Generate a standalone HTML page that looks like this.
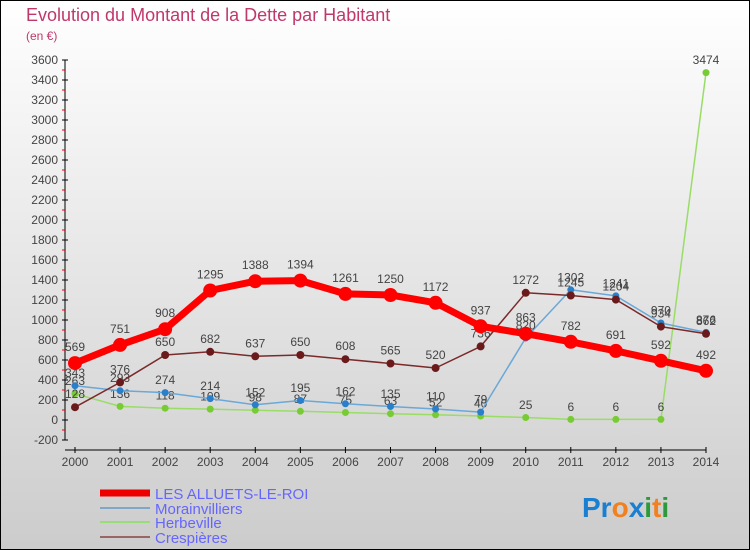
<!DOCTYPE html>
<html><head><meta charset="utf-8"><style>
html,body{margin:0;padding:0}
body{width:750px;height:550px;overflow:hidden}
svg{display:block;font-family:"Liberation Sans",sans-serif}
</style></head><body>
<svg id="chart" width="750" height="550" viewBox="0 0 750 550">
<defs><linearGradient id="bg" x1="0" y1="0" x2="0" y2="1"><stop offset="0" stop-color="#ffffff"/><stop offset="1" stop-color="#cccccc"/></linearGradient></defs>
<rect x="0.5" y="0.5" width="749" height="549" fill="url(#bg)" stroke="#000"/>
<text x="26" y="21" font-size="18" fill="#c0386a">Evolution du Montant de la Dette par Habitant</text>
<text x="26" y="40" font-size="12" fill="#c0386a">(en €)</text>
<g id="axes"></g><g id="series"></g>
<g>
<line x1="100" y1="493" x2="150" y2="493" stroke="#e00" stroke-width="7"/>
<text x="155" y="499" font-size="15" fill="#6666ff">LES ALLUETS-LE-ROI</text>
<line x1="100" y1="508" x2="150" y2="508" stroke="#7fa8c8" stroke-width="2"/>
<text x="155" y="514" font-size="15" fill="#6666ff">Morainvilliers</text>
<line x1="100" y1="522" x2="150" y2="522" stroke="#99dd77" stroke-width="2"/>
<text x="155" y="528" font-size="15" fill="#6666ff">Herbeville</text>
<line x1="100" y1="537" x2="150" y2="537" stroke="#996666" stroke-width="2"/>
<text x="155" y="543" font-size="15" fill="#6666ff">Crespières</text>
</g>
<text x="582" y="517" font-size="28" font-weight="bold"><tspan fill="#1a7fd0">Pr</tspan><tspan fill="#f08020">o</tspan><tspan fill="#1a7fd0">x</tspan><tspan fill="#2a9a3a">i</tspan><tspan fill="#f08020">t</tspan><tspan fill="#2a9a3a">i</tspan></text>
</svg>
<script>
const years=["2000","2001","2002","2003","2004","2005","2006","2007","2008","2009","2010","2011","2012","2013","2014"];
const yTicks=[-200,0,200,400,600,800,1000,1200,1400,1600,1800,2000,2200,2400,2600,2800,3000,3200,3400,3600];
const alluets=[569,751,908,1295,1388,1394,1261,1250,1172,937,863,782,691,592,492];
const morainvilliers=[343,293,274,214,152,195,162,135,110,79,820,1302,1241,970,876];
const herbeville=[263,136,118,109,98,87,75,63,52,40,25,6,6,6,3474];
const crespieres=[128,376,650,682,637,650,608,565,520,736,1272,1245,1204,934,862];
const NS="http://www.w3.org/2000/svg";
const xS=i=>75+i*(631/14);
const yS=v=>420-v*0.1;
function mk(tag,attrs,parent){const e=document.createElementNS(NS,tag);for(const k in attrs)e.setAttribute(k,attrs[k]);parent.appendChild(e);return e;}
const ax=document.getElementById('axes');
const yl=mk('line',{x1:65,y1:yS(3600),x2:65,y2:yS(-200),stroke:'#000'},ax);


const xl=mk('line',{x1:65,y1:450,x2:706,y2:450,stroke:'#000'},ax);


yTicks.forEach((v,k)=>{
 mk('line',{x1:62,y1:yS(v),x2:68,y2:yS(v),stroke:'#000'},ax);
 if(k<yTicks.length-1) mk('line',{x1:62,y1:yS(v+100),x2:65,y2:yS(v+100),stroke:'#e00'},ax);
 const t=mk('text',{x:58,y:yS(v)+4,'font-size':12,'text-anchor':'end',fill:'#444'},ax);
 t.textContent=v;
 
 
});
years.forEach((y,i)=>{
 mk('line',{x1:xS(i),y1:447,x2:xS(i),y2:453,stroke:'#000'},ax);
 const t=mk('text',{x:xS(i),y:466,'font-size':12,'text-anchor':'middle',fill:'#444'},ax);
 t.textContent=y;
 
 
});
const sg=document.getElementById('series');
function series(data,name,color,w,r,dot){
 const g=mk('g',{},sg);
 
 
 const p=mk('polyline',{points:data.map((v,i)=>xS(i)+','+yS(v)).join(' '),fill:'none',stroke:color,'stroke-width':w,'stroke-linejoin':'round'},g);
 
 
 data.forEach((v,i)=>{
  const c=mk('circle',{cx:xS(i),cy:yS(v),r:r,fill:dot},g);
  
  
  const t=mk('text',{x:xS(i),y:yS(v)-r-5,'font-size':12,'text-anchor':'middle',fill:'#444'},g);
  t.textContent=v;
  
  
 });
}
series(herbeville,'herbeville','#99dd66',1.5,3.5,'#77cc33');
series(morainvilliers,'morainvilliers','#6aa8d8',1.5,3.5,'#2a7fc8');
series(crespieres,'crespieres','#7a2a2a',1.5,4,'#6a1a1a');
series(alluets,'alluets','#ff0000',7,7,'#ff0000');
</script>
</body></html>
